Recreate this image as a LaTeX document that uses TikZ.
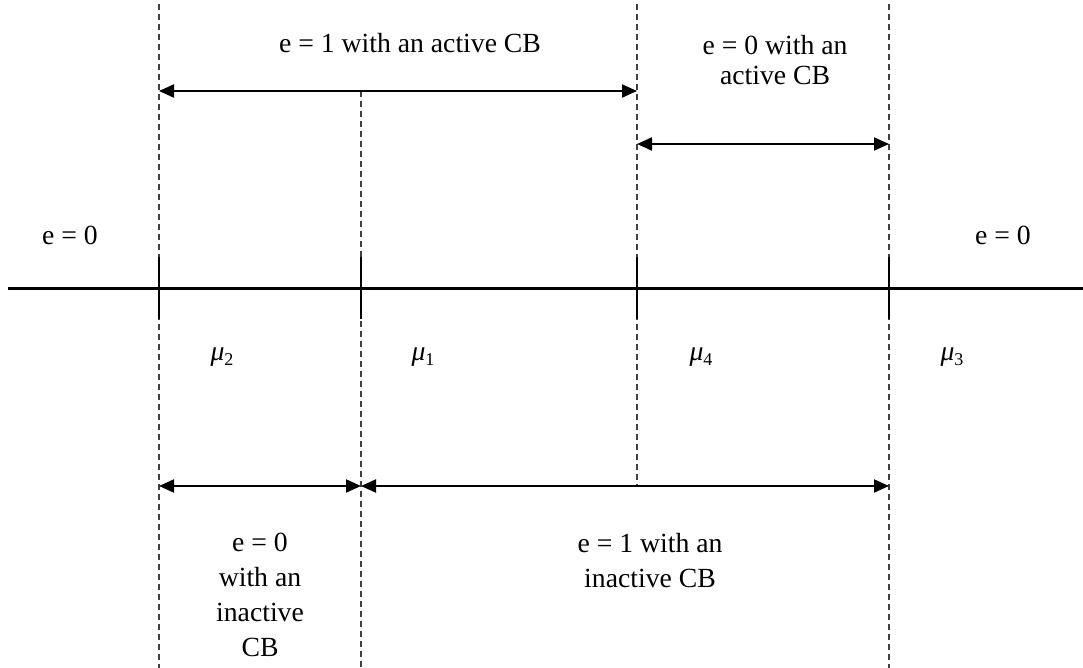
\documentclass[tikz,border=0pt]{standalone}
\usepackage{fontspec}
\setmainfont{Liberation Serif}
\usetikzlibrary{arrows.meta}
\begin{document}
\begin{tikzpicture}[x=1pt,y=-1pt,
  guide/.style={line width=1.1pt,draw=black!75,dash pattern=on 6pt off 4pt},
  axisline/.style={line width=3pt,black},
  tick/.style={line width=1.2pt,black},
  span/.style={line width=2pt,black,{Triangle[length=15pt,width=13pt]}-{Triangle[length=15pt,width=13pt]}},
  lbl/.style={font=\fontsize{27.7}{35}\selectfont,align=center,inner sep=0pt},
  lbltop/.style={font=\fontsize{27.7}{30}\selectfont,align=center,inner sep=0pt},
  mu/.style={font=\fontsize{27.7}{30}\selectfont,inner sep=0pt}]
\useasboundingbox (0,0) rectangle (1083,668);
% coordinates
\coordinate (g1t) at (159,4);   \coordinate (g1b) at (159,668);
\coordinate (g2t) at (361,91);  \coordinate (g2b) at (361,668);
\coordinate (g3t) at (637,4);   \coordinate (g3b) at (637,486);
\coordinate (g4t) at (889,4);   \coordinate (g4b) at (889,668);
\coordinate (axl) at (8,288);   \coordinate (axr) at (1083,288);
\coordinate (a1l) at (159,91);  \coordinate (a1r) at (637,91);
\coordinate (a2l) at (637,144); \coordinate (a2r) at (889,144);
\coordinate (b1l) at (159,486); \coordinate (b1r) at (361,486);
\coordinate (b2l) at (361,486); \coordinate (b2r) at (889,486);
% dashed guides
\draw[guide] (g1t) -- (g1b);
\draw[guide] (g2t) -- (g2b);
\draw[guide] (g3t) -- (g3b);
\draw[guide] (g4t) -- (g4b);
% axis and ticks
\draw[axisline] (axl) -- (axr);
\foreach \x/\n in {159/t1,361/t2,637/t3,889/t4}{
  \coordinate (\n a) at (\x,257); \coordinate (\n b) at (\x,319);
  \draw[tick] (\n a) -- (\n b);
}
% spans
\draw[span] (a1l) -- (a1r);
\draw[span] (a2l) -- (a2r);
\draw[span] (b1l) -- (b1r);
\draw[span] (b2l) -- (b2r);
% labels
\node[lbl] (l1) at (410,43) {e = 1 with an active CB};
\node[lbltop] (l2) at (775,60) {e = 0 with an\\active CB};
\node[lbl] (l3) at (70,235) {e = 0};
\node[lbl] (l4) at (1003,235) {e = 0};
\node[mu] (m2) at (222,357) {\textit{μ}\raisebox{-5pt}{\fontsize{18}{18}\selectfont 2}};
\node[mu] (m1) at (423,357) {\textit{μ}\raisebox{-5pt}{\fontsize{18}{18}\selectfont 1}};
\node[mu] (m4) at (701,357) {\textit{μ}\raisebox{-5pt}{\fontsize{18}{18}\selectfont 4}};
\node[mu] (m3) at (952,357) {\textit{μ}\raisebox{-5pt}{\fontsize{18}{18}\selectfont 3}};
\node[lbl,anchor=north] (l5) at (260,533) {e = 0\\with an\\inactive\\CB};
\node[lbl,anchor=north] (l6) at (650,533) {e = 1 with an\\inactive CB};
\end{tikzpicture}
\end{document}
